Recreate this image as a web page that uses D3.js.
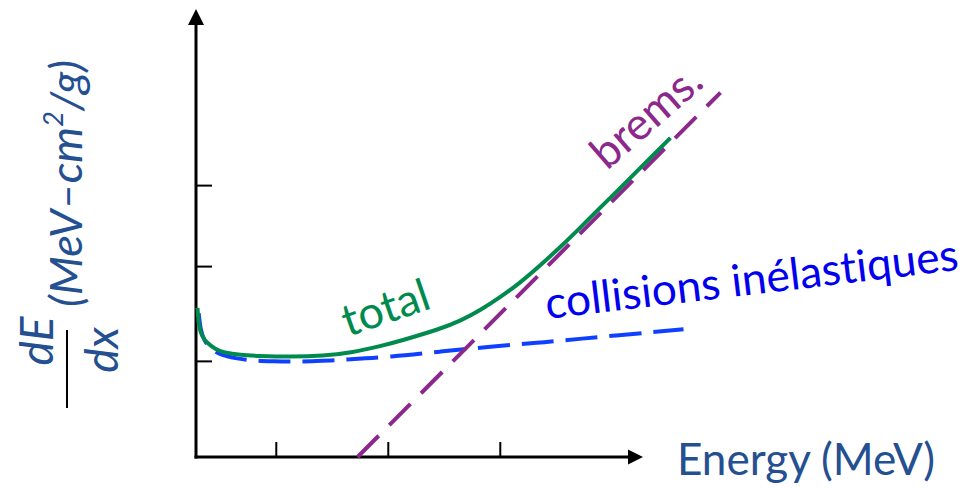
<!DOCTYPE html>
<html>
<head>
<meta charset="utf-8">
<script src="https://cdn.jsdelivr.net/npm/d3@7"></script>
<style>
    body { margin: 0; background: #ffffff; }
    text { font-family: Lato, "Open Sans", sans-serif; font-variant-ligatures: none; font-feature-settings: "liga" 0; }
</style>
</head>
<body>
<div id="chart"></div>
<script>

// energy (MeV, log axis) and dE/dx (arbitrary units)
const totalEnergy = [0.2, 0.205, 0.22, 0.244, 0.289, 0.341, 0.484, 0.687, 1.35, 2.67, 4.65, 8.61, 13.0, 29.6, 44.6, 67.3, 101, 153, 231, 348, 526, 793, 1200, 1800, 3340]
const totalDedx = [33.5, 29.3, 27.0, 25.6, 24.2, 23.5, 22.9, 22.7, 22.5, 22.7, 23.4, 24.9, 26.1, 28.8, 30.6, 33.0, 35.9, 39.2, 43.1, 47.2, 51.6, 56.1, 60.5, 65.0, 71.7]

const collEnergy = [0.205, 0.213, 0.228, 0.261, 0.341, 0.484, 0.687, 0.954, 1.35, 2.67, 4.37, 10.6, 29.6, 82.6, 231, 400, 4370]
const collDedx = [32.3, 28.5, 26.3, 24.2, 22.7, 22.0, 21.6, 21.5, 21.4, 21.6, 21.9, 22.5, 23.7, 24.8, 25.7, 26.3, 28.7]

const bremsEnergy = [5.37, 9350]
const bremsDedx = [0, 81.9]

const xTicks = [1, 10, 100]
const yTicks = [21.6, 42.9, 61.1]

const labels = {total: 'total', brems: 'brems.', coll: 'collisions inélastiques', xAxis: 'Energy (MeV)'}


class StoppingPowerVis {

    constructor(parentElement) {
        this.parentElement = parentElement;

        this.green = '#008a4e'
        this.blueLine = '#1040ff'
        this.blueText = '#0000ee'
        this.purple = '#8c288c'
        this.axisBlue = '#245091'

        this.initVis()
    }

    // scale the font so the label covers the same length as in the picture
    fitLabel(sel, targetWidth) {
        let w = sel.node().getComputedTextLength();
        let fs = +sel.attr('font-size');
        sel.attr('font-size', fs * targetWidth / w);
        return sel;
    }

    initVis() {
        let vis = this;

        vis.width = 972;
        vis.height = 488;

        vis.svg = d3.select('#' + vis.parentElement).append('svg')
            .attr('width', vis.width)
            .attr('height', vis.height);

        vis.x = d3.scaleLog().domain([0.2, 2000]).range([197.5, 645.5]);
        vis.y = d3.scaleLinear().domain([0, 100]).range([457, 12]);

        let x0 = 196, y0 = vis.y(0);

        // ticks
        let xAxis = vis.svg.append('g')
            .attr('transform', `translate(0, ${y0})`)
            .call(d3.axisBottom(vis.x).tickValues(xTicks).tickSize(-15).tickFormat(''));
        let yAxis = vis.svg.append('g')
            .attr('transform', `translate(${x0}, 0)`)
            .call(d3.axisLeft(vis.y).tickValues(yTicks).tickSize(-16).tickFormat(''));
        [xAxis, yAxis].forEach(a => {
            a.select('.domain').remove();
            a.selectAll('.tick line').attr('stroke', '#000').attr('stroke-width', 2);
        });

        // axis lines with arrow heads
        vis.svg.append('line')
            .attr('x1', x0).attr('y1', y0 + 1.5)
            .attr('x2', x0).attr('y2', 22)
            .attr('stroke', '#000').attr('stroke-width', 3);
        vis.svg.append('path')
            .attr('d', `M${x0},9 L${x0 - 8},25 L${x0 + 8},25 Z`)
            .attr('fill', '#000');
        vis.svg.append('line')
            .attr('x1', x0 - 1.5).attr('y1', y0)
            .attr('x2', 631).attr('y2', y0)
            .attr('stroke', '#000').attr('stroke-width', 3);
        vis.svg.append('path')
            .attr('d', `M643,${y0} L628,${y0 - 7.5} L628,${y0 + 7.5} Z`)
            .attr('fill', '#000');

        let line = d3.line()
            .x(d => vis.x(d[0]))
            .y(d => vis.y(d[1]))
            .curve(d3.curveBasis);

        vis.svg.append('path')
            .datum(d3.zip(collEnergy, collDedx))
            .attr('d', line)
            .attr('fill', 'none')
            .attr('stroke', vis.blueLine)
            .attr('stroke-width', 4)
            .attr('stroke-dasharray', '32,12');

        vis.svg.append('path')
            .datum(d3.zip(bremsEnergy, bremsDedx))
            .attr('d', line)
            .attr('fill', 'none')
            .attr('stroke', vis.purple)
            .attr('stroke-width', 4)
            .attr('stroke-dasharray', '30,15');

        vis.svg.append('path')
            .datum(d3.zip(totalEnergy, totalDedx))
            .attr('d', line)
            .attr('fill', 'none')
            .attr('stroke', vis.green)
            .attr('stroke-width', 4);

        // curve labels
        vis.fitLabel(vis.svg.append('text')
            .attr('transform', 'translate(348, 337) rotate(-19)')
            .attr('font-size', 44)
            .attr('fill', vis.green)
            .text(labels.total), 90);

        vis.fitLabel(vis.svg.append('text')
            .attr('transform', 'translate(607, 171) rotate(-41)')
            .attr('font-size', 44)
            .attr('fill', vis.purple)
            .text(labels.brems), 131);

        vis.fitLabel(vis.svg.append('text')
            .attr('transform', 'translate(547, 319) rotate(-6.8)')
            .attr('font-size', 44)
            .attr('fill', vis.blueText)
            .text(labels.coll), 416);

        // axis titles
        vis.fitLabel(vis.svg.append('text')
            .attr('x', 677)
            .attr('y', 475)
            .attr('font-size', 44)
            .attr('fill', vis.axisBlue)
            .text(labels.xAxis), 258);

        vis.svg.append('text')
            .attr('transform', 'translate(53, 341) rotate(-90)')
            .attr('text-anchor', 'middle')
            .attr('font-size', 46)
            .attr('font-style', 'italic')
            .attr('fill', vis.axisBlue)
            .text('dE');

        vis.svg.append('text')
            .attr('transform', 'translate(118, 350) rotate(-90)')
            .attr('text-anchor', 'middle')
            .attr('font-size', 46)
            .attr('font-style', 'italic')
            .attr('fill', vis.axisBlue)
            .text('dx');

        vis.svg.append('line')
            .attr('x1', 67).attr('y1', 330)
            .attr('x2', 67).attr('y2', 408)
            .attr('stroke', '#000')
            .attr('stroke-width', 2);

        let unit = vis.svg.append('text')
            .attr('transform', 'translate(82, 307) rotate(-90)')
            .attr('font-size', 44)
            .attr('font-style', 'italic')
            .attr('fill', vis.axisBlue);
        unit.append('tspan').text('(MeV–cm');
        unit.append('tspan').attr('font-size', '0.6em').attr('dy', '-0.7em').text('2');
        unit.append('tspan').attr('dy', '0.42em').text('/g)');
        vis.fitLabel(unit, 247);
    }
}

new StoppingPowerVis('chart');
</script>
</body>
</html>
